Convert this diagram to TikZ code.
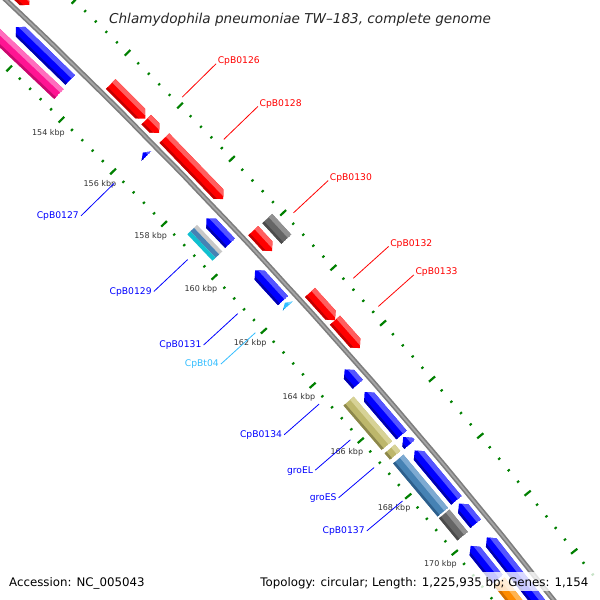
\documentclass[tikz,border=0pt]{standalone}
\usepackage{fontspec}
\setmainfont{DejaVu Sans}
\definecolor{gred}{RGB}{255,0,0}
\definecolor{gredL}{RGB}{255,95,95}
\definecolor{gredD}{RGB}{195,0,0}
\definecolor{gblue}{RGB}{0,0,255}
\definecolor{gblueL}{RGB}{85,85,255}
\definecolor{gblueD}{RGB}{0,0,175}
\definecolor{ggray}{RGB}{102,102,102}
\definecolor{ggrayL}{RGB}{145,145,145}
\definecolor{ggrayD}{RGB}{75,75,75}
\definecolor{golive}{RGB}{189,183,107}
\definecolor{goliveL}{RGB}{215,210,150}
\definecolor{goliveD}{RGB}{140,135,75}
\definecolor{gsteel}{RGB}{70,130,180}
\definecolor{gsteelL}{RGB}{125,170,210}
\definecolor{gsteelD}{RGB}{45,95,140}
\definecolor{gpink}{RGB}{255,20,147}
\definecolor{gpinkL}{RGB}{255,110,190}
\definecolor{gpinkD}{RGB}{200,10,110}
\definecolor{gorange}{RGB}{255,140,0}
\definecolor{gorangeL}{RGB}{255,180,80}
\definecolor{gorangeD}{RGB}{210,110,0}
\definecolor{gsky}{RGB}{51,190,255}
\definecolor{gskyL}{RGB}{120,215,255}
\definecolor{gskyD}{RGB}{20,150,220}
\definecolor{gsilver}{RGB}{200,200,200}
\definecolor{gcyan}{RGB}{16,192,208}
\definecolor{tickgreen}{RGB}{0,128,0}
\definecolor{bbgray}{RGB}{125,125,125}
\definecolor{bbgrayL}{RGB}{165,165,165}
\definecolor{kbptext}{RGB}{51,51,51}
\tikzset{
  majtick/.style={draw=tickgreen,line width=2.2pt},
  mintick/.style={draw=tickgreen,line width=2pt},
  labline/.style={line width=0.8pt},
  glab/.style={inner sep=0pt,font=\fontsize{9.2}{11}\selectfont},
  kbp/.style={inner sep=0pt,text=kbptext,font=\fontsize{8}{10}\selectfont},
  foot/.style={inner sep=0pt,text=black,font=\fontsize{11.8}{14}\selectfont}
}
\newcommand{\posang}[1]{45.31-0.382*(#1-154)}
% p1, p2, radial offset, direction (1 fwd, -1 rev, 0 box), base, light, dark
\newcommand{\gene}[7]{%
 \pgfmathsetmacro\aA{\posang{#1}}%
 \pgfmathsetmacro\aB{\posang{#2}}%
 \pgfmathsetmacro\rc{5533.5+#3}%
 \pgfmathsetmacro\ro{\rc+6.75}%
 \pgfmathsetmacro\ri{\rc-6.75}%
 \pgfmathsetmacro\hd{min(0.07,\aA-\aB)}%
 \pgfmathsetmacro\aF{\aB+\hd}%
 \pgfmathsetmacro\aR{\aA-\hd}%
 \pgfmathsetmacro\rL{\rc+2}%
 \pgfmathsetmacro\rD{\ri+2.5}%
 \pgfmathsetmacro\rO{\ro+1}%
 \pgfmathsetmacro\rI{\ri-1}%
 \begin{scope}
 \ifnum#4=1
  \clip (\aA:\ro) -- (\aF:\ro) -- (\aB:\rc) -- (\aF:\ri) -- (\aA:\ri) -- cycle;
 \else\ifnum#4=-1
  \clip (\aA:\rc) -- (\aR:\ro) -- (\aB:\ro) -- (\aB:\ri) -- (\aR:\ri) -- cycle;
 \else
  \clip (\aA:\ro) -- (\aB:\ro) -- (\aB:\ri) -- (\aA:\ri) -- cycle;
 \fi\fi
 \fill[#5] (\aA:\rO) -- (\aB:\rO) -- (\aB:\rI) -- (\aA:\rI) -- cycle;
 \fill[#6] (\aA:\rO) -- (\aB:\rO) -- (\aB:\rL) -- (\aA:\rL) -- cycle;
 \fill[#7] (\aA:\rD) -- (\aB:\rD) -- (\aB:\rI) -- (\aA:\rI) -- cycle;
 \end{scope}}
\newcommand{\stripe}[5]{%
 \pgfmathsetmacro\aA{\posang{#1}}\pgfmathsetmacro\aB{\posang{#2}}%
 \pgfmathsetmacro\rA{5533.5+#3}\pgfmathsetmacro\rB{5533.5+#4}%
 \fill[#5] (\aA:\rA) -- (\aB:\rA) -- (\aB:\rB) -- (\aA:\rB) -- cycle;}
\newcommand{\olab}[3]{%
 \pgfmathsetmacro\la{\posang{#1}}%
 \coordinate (#2-in) at (\la:5587.5);
 \coordinate (#2-out) at (\la:5635);
 \draw[labline,#3] (#2-in) -- (#2-out);
 \node[glab,text=#3,anchor=base west,xshift=1.5pt] (#2) at (#2-out) {#2};}
\newcommand{\ilab}[3]{%
 \pgfmathsetmacro\la{\posang{#1}}%
 \coordinate (#2-in) at (\la:5478.5);
 \coordinate (#2-out) at (\la:5432);
 \draw[labline,#3] (#2-in) -- (#2-out);
 \node[glab,text=#3,anchor=east,xshift=-2pt,yshift=-0.5pt] (#2) at (#2-out) {#2};}
\begin{document}
\begin{tikzpicture}[x=1pt,y=1pt]
\useasboundingbox (0,-600) rectangle (600,0);
\fill[white] (0,-600) rectangle (600,0);
\begin{scope}
\clip (0,-600) rectangle (600,0);
\begin{scope}[shift={(-3796.5,-4019.6)}]
 % rulers
 \foreach \i in {0,...,80}{
  \pgfmathsetmacro\ta{\posang{146+0.4*\i}}
  \pgfmathtruncatemacro\mj{mod(\i,5)==0}
  \ifnum\mj=1
   \draw[majtick] (\ta:5482) -- (\ta:5490);
   \draw[majtick] (\ta:5576) -- (\ta:5584);
  \else
   \draw[mintick] (\ta:5484.7) -- (\ta:5487.3);
   \draw[mintick] (\ta:5578.7) -- (\ta:5581.3);
  \fi}
 \foreach \k in {154,156,...,170}{
  \pgfmathsetmacro\ta{\posang{\k}}
  \node[kbp] (kbp\k) at (\ta:5467.5) {\k\ kbp};}
 % backbone
 \draw[bbgray,line width=5pt] plot[domain=146:176,samples=61] ({\posang{\x}}:5533.5);
 \draw[bbgrayL,line width=1.8pt] plot[domain=146:176,samples=61] ({\posang{\x}}:5533.5);
 % forward strand
 \gene{149.5}{151.2}{12.5}{1}{gred}{gredL}{gredD}
 \gene{154.27}{155.59}{12.5}{1}{gred}{gredL}{gredD}
 \gene{155.63}{156.13}{12.5}{1}{gred}{gredL}{gredD}
 \gene{156.33}{158.62}{12.5}{1}{gred}{gredL}{gredD}
 \gene{159.80}{160.55}{12.5}{1}{gred}{gredL}{gredD}
 \gene{159.82}{160.58}{31}{0}{ggray}{ggrayL}{ggrayD}
 \gene{162.07}{163.08}{12.5}{1}{gred}{gredL}{gredD}
 \gene{163.08}{164.09}{12.5}{1}{gred}{gredL}{gredD}
 % reverse strand
 \gene{151.35}{153.41}{-13}{-1}{gblue}{gblueL}{gblueD}
 \gene{156.20}{156.34}{-13}{-1}{gblue}{gblueL}{gblueD}
 \gene{158.69}{159.62}{-13}{-1}{gblue}{gblueL}{gblueD}
 \gene{160.62}{161.74}{-13}{-1}{gblue}{gblueL}{gblueD}
 \gene{161.82}{161.94}{-13}{-1}{gsky}{gskyL}{gskyD}
 \gene{164.25}{164.79}{-13}{-1}{gblue}{gblueL}{gblueD}
 \gene{165.07}{166.61}{-13}{-1}{gblue}{gblueL}{gblueD}
 \gene{166.68}{166.95}{-13}{-1}{gblue}{gblueL}{gblueD}
 \gene{167.16}{168.93}{-13}{-1}{gblue}{gblueL}{gblueD}
 \gene{169.04}{169.75}{-13}{-1}{gblue}{gblueL}{gblueD}
 \gene{170.23}{174.0}{-13}{-1}{gblue}{gblueL}{gblueD}
 % second inner slot
 \gene{148.0}{153.46}{-31}{0}{gpink}{gpinkL}{gpinkD}
 \stripe{158.64}{159.64}{-24.25}{-28.5}{gsilver}
 \stripe{158.64}{159.64}{-28.5}{-33.5}{gsteel}
 \stripe{158.64}{159.64}{-33.5}{-37.75}{gcyan}
 \gene{164.97}{166.57}{-31}{0}{golive}{goliveL}{goliveD}
 \gene{166.69}{166.92}{-31}{0}{golive}{goliveL}{goliveD}
 \gene{167.05}{168.94}{-31}{0}{gsteel}{gsteelL}{gsteelD}
 \gene{169.00}{169.79}{-31}{0}{ggray}{ggrayL}{ggrayD}
 \gene{170.13}{171.30}{-31}{-1}{gblue}{gblueL}{gblueD}
 \gene{171.38}{174.0}{-31}{0}{gorange}{gorangeL}{gorangeD}
 % labels
 \olab{155.88}{CpB0126}{gred}
 \olab{157.47}{CpB0128}{gred}
 \olab{160.19}{CpB0130}{gred}
 \olab{162.57}{CpB0132}{gred}
 \olab{163.58}{CpB0133}{gred}
 \ilab{156.25}{CpB0127}{gblue}
 \ilab{159.15}{CpB0129}{gblue}
 \ilab{161.17}{CpB0131}{gblue}
 \ilab{161.88}{CpBt04}{gsky}
 \ilab{164.50}{CpB0134}{gblue}
 \ilab{165.80}{groEL}{gblue}
 \ilab{166.80}{groES}{gblue}
 \ilab{168.00}{CpB0137}{gblue}
\end{scope}
\fill[white,opacity=0.78] (0,-590.5) rectangle (600,-572);
\end{scope}
\node[inner sep=0pt,anchor=base,text=black!85,font=\fontsize{13.6}{16}\selectfont\itshape] (title) at (300,-23.3) {Chlamydophila pneumoniae TW–183, complete genome};
\node[foot,anchor=base west] (acc) at (9,-586.5) {Accession: NC\_005043};
\node[foot,anchor=base east] (topo) at (588.5,-586.5) {Topology: circular; Length: 1,225,935 bp; Genes: 1,154};
\end{tikzpicture}
\end{document}
